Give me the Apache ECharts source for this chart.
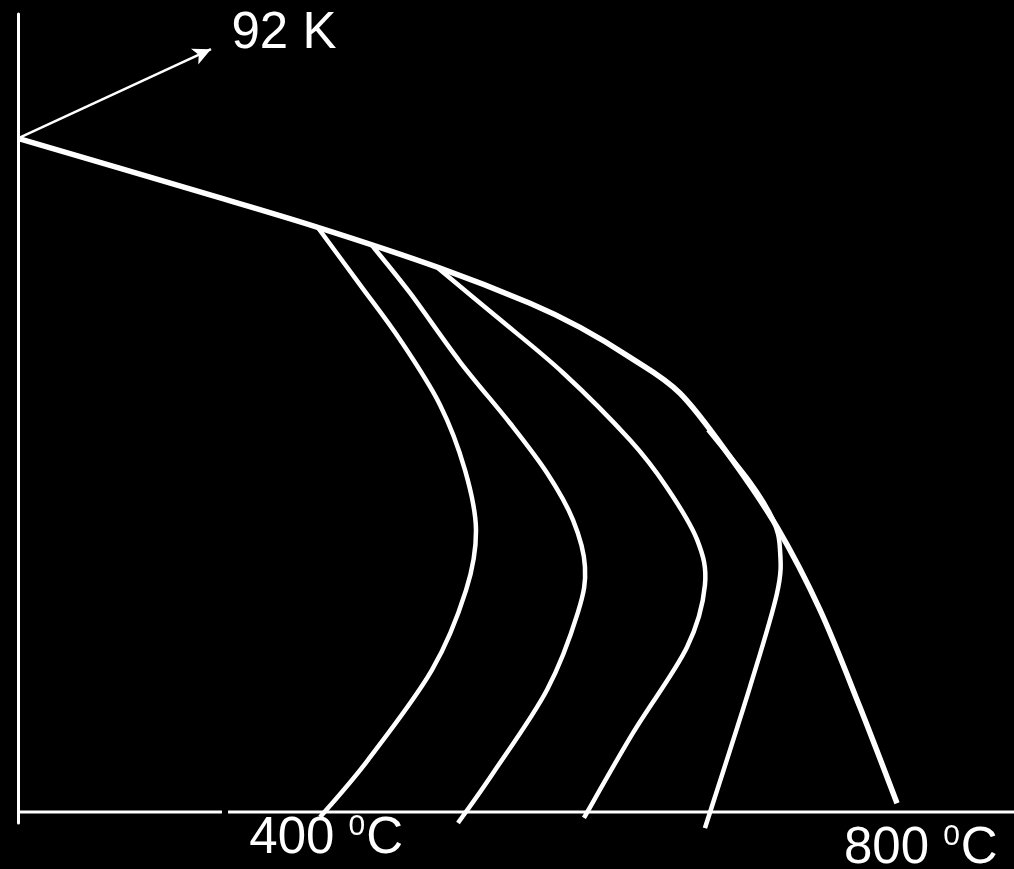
<!DOCTYPE html>
<html>
<head>
<meta charset="utf-8">
<script src="https://cdn.jsdelivr.net/npm/echarts@6/dist/echarts.min.js"></script>
<style>
  html, body { margin: 0; padding: 0; background: #000; }
  #chart { width: 1014px; height: 869px; }
</style>
</head>
<body>
<div id="chart"></div>
<script>
// Temperature (°C) on x, Tc (K) on y.
// Common curve from 92 K, falling with annealing temperature.
const mainCurve = [
  [190, 92.0], [312.4, 84.7], [391.1, 79.9], [473.9, 74.3], [534.4, 69.5],
  [568.1, 66.2], [601.7, 62.1], [635.3, 57.2], [669.0, 48.5], [700.6, 38.9],
  [729.5, 27.6], [756.4, 14.3], [781.3, 1.2]
];

// Branches leaving the common curve
const branchA = [
  [391.8, 79.8], [420.1, 72.0], [447.0, 64.5], [473.9, 55.6], [490.7, 46.7],
  [498.1, 38.5], [491.4, 30.3], [468.5, 19.4], [425.4, 7.1], [393.2, -0.7]
];
const branchB = [
  [428.1, 77.4], [453.7, 70.9], [487.3, 61.5], [521.0, 53.1], [545.9, 46.3],
  [563.3, 39.9], [571.4, 33.5], [566.7, 27.3], [545.9, 16.7], [509.5, 5.3],
  [486.0, -1.5]
];
const branchC = [
  [472.5, 74.3], [512.2, 67.6], [556.6, 60.0], [601.7, 50.8], [626.6, 44.3],
  [646.8, 37.2], [652.1, 31.0], [640.0, 22.5], [603.7, 10.8], [570.7, -0.8]
];
const branchD = [
  [654.2, 52.2], [682.4, 45.1], [697.9, 39.9], [702.6, 35.8], [700.6, 29.9],
  [682.4, 17.1], [652.1, -2.2]
];

// Horizontal base line (with its small break)
const baseLine = [[190, 0], [327.2, 0], [329, '-'], [331.3, 0], [860, 0]];

// Arrow from the starting point to the "92 K" note
const arrowFrom = [190, 92];
const arrowTo = [319.8, 104.2];

// Text notes
const tempTicks = [400, 800];
const tempUnit = 'C';
const tcNote = '92 K';

const chart = echarts.init(document.getElementById('chart'));

const FONT = 'Liberation Sans, Arial, sans-serif';
const rich = {
  n: { fontSize: 51, fontFamily: FONT, color: '#fff', lineHeight: 56, verticalAlign: 'bottom' },
  s: { fontSize: 30, fontFamily: FONT, color: '#fff', lineHeight: 56, verticalAlign: 'top', padding: [4, 1, 0, 0] }
};

// Smooth curve through the points (Catmull-Rom -> cubic Bezier), placed by the axes
function curveSeries(points, width) {
  return {
    type: 'custom',
    silent: true,
    clip: false,
    data: points,
    encode: { x: 0, y: 1 },
    renderItem: function (params, api) {
      if (params.dataIndex !== 0) return null;
      const p = points.map(function (d) { return api.coord(d); });
      const n = p.length;
      let d = 'M' + p[0][0] + ' ' + p[0][1];
      for (let i = 0; i < n - 1; i++) {
        const p0 = p[Math.max(i - 1, 0)];
        const p1 = p[i];
        const p2 = p[i + 1];
        const p3 = p[Math.min(i + 2, n - 1)];
        const c1x = p1[0] + (p2[0] - p0[0]) / 6;
        const c1y = p1[1] + (p2[1] - p0[1]) / 6;
        const c2x = p2[0] - (p3[0] - p1[0]) / 6;
        const c2y = p2[1] - (p3[1] - p1[1]) / 6;
        d += ' C' + c1x + ' ' + c1y + ' ' + c2x + ' ' + c2y + ' ' + p2[0] + ' ' + p2[1];
      }
      return {
        type: 'path',
        shape: { pathData: d },
        style: { stroke: '#fff', fill: null, lineWidth: width, lineCap: 'butt', lineJoin: 'round' }
      };
    }
  };
}

chart.setOption({
  backgroundColor: '#000',
  animation: false,
  grid: { left: 18, right: 0, top: 14, bottom: 46 },
  xAxis: {
    type: 'value', min: 190, max: 860,
    axisLine: { show: false }, axisTick: { show: false },
    axisLabel: { show: false }, splitLine: { show: false }
  },
  yAxis: {
    type: 'value', min: -1.5, max: 109,
    axisLine: { show: true, onZero: false, lineStyle: { color: '#fff', width: 3 } },
    axisTick: { show: false }, axisLabel: { show: false }, splitLine: { show: false }
  },
  series: [
    {
      type: 'line', data: baseLine, symbol: 'none', silent: true, connectNulls: false,
      lineStyle: { color: '#fff', width: 3 },
      markLine: {
        silent: true,
        symbol: ['none', 'arrow'],
        symbolSize: [13, 18],
        label: { show: false },
        lineStyle: { color: '#fff', width: 2.5, type: 'solid' },
        data: [[{ coord: arrowFrom }, { coord: arrowTo }]]
      }
    },
    curveSeries(branchA, 4.5),
    curveSeries(branchB, 4.5),
    curveSeries(branchC, 4.5),
    curveSeries(branchD, 4.5),
    curveSeries(mainCurve, 5.5),
    {
      type: 'scatter', symbolSize: 0, silent: true, clip: false,
      itemStyle: { opacity: 1 },
      data: [
        {
          value: [tempTicks[0], 0],
          label: { show: true, position: 'inside', offset: [-4, 24], formatter: '{n|' + tempTicks[0] + ' }{s|0}{n|' + tempUnit + '}', rich }
        },
        {
          value: [tempTicks[1], 0],
          label: { show: true, position: 'inside', offset: [-4, 34], formatter: '{n|' + tempTicks[1] + ' }{s|0}{n|' + tempUnit + '}', rich }
        },
        {
          value: arrowTo,
          label: { show: true, position: 'inside', offset: [73, -18], formatter: '{n|' + tcNote + '}', rich }
        }
      ]
    }
  ]
});
</script>
</body>
</html>
